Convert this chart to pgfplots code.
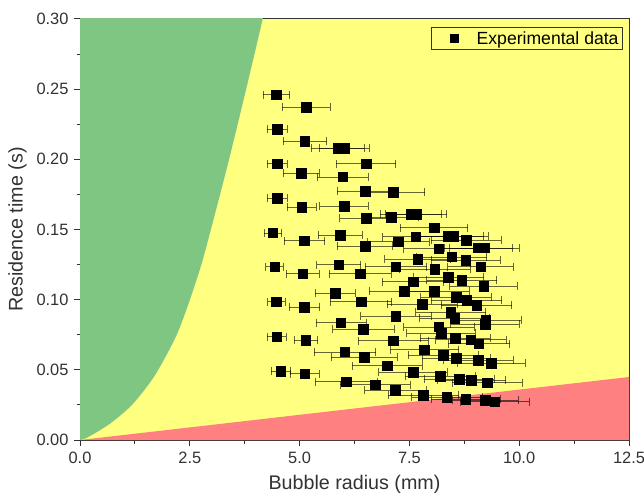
\documentclass[border=0pt]{standalone}
\usepackage{fontspec}
\setmainfont{Liberation Sans}
\usepackage{pgfplots}
\usepackage{pgfplotstable}
\pgfplotsset{compat=1.18}
\definecolor{bgyellow}{RGB}{255,255,128}
\definecolor{zgreen}{RGB}{128,198,131}
\definecolor{zred}{RGB}{255,128,128}
\definecolor{axgray}{RGB}{50,50,50}
\pgfplotstableread{
x y ex
4.47 0.246 0.30
5.15 0.237 0.55
4.49 0.2215 0.23
5.12 0.213 0.50
5.87 0.208 0.60
6.02 0.208 0.57
4.49 0.197 0.23
6.51 0.197 0.68
5.04 0.190 0.41
5.98 0.1875 0.58
6.50 0.1773 0.65
7.13 0.1766 0.72
4.49 0.1723 0.23
5.05 0.166 0.33
6.01 0.1666 0.55
7.53 0.161 0.70
7.65 0.161 0.70
6.51 0.158 0.60
7.08 0.1588 0.62
8.06 0.1514 0.77
4.39 0.1476 0.20
5.93 0.146 0.50
7.64 0.145 0.75
8.39 0.1452 0.80
8.50 0.1452 0.80
5.11 0.1421 0.46
7.25 0.1412 0.70
8.79 0.1424 0.80
6.49 0.138 0.63
8.17 0.1364 0.80
9.07 0.1369 0.78
9.20 0.1369 0.80
7.69 0.1288 0.75
8.46 0.1305 0.80
8.78 0.128 0.78
4.43 0.1234 0.20
5.89 0.125 0.50
7.19 0.1236 0.70
9.12 0.1234 0.75
5.07 0.1186 0.37
6.38 0.1186 0.70
8.08 0.1217 0.80
8.39 0.1162 0.80
8.69 0.1139 0.80
7.58 0.1129 0.70
9.19 0.1096 0.77
7.38 0.106 0.80
8.06 0.1062 0.80
5.81 0.1044 0.45
8.56 0.1017 0.80
8.80 0.0996 0.80
4.47 0.0986 0.20
6.40 0.0986 0.70
7.79 0.0967 0.80
9.03 0.096 0.80
5.11 0.0948 0.35
8.44 0.091 0.80
7.19 0.0882 0.80
8.53 0.0868 0.80
9.24 0.0856 0.80
9.22 0.0825 0.78
5.94 0.0837 0.57
8.17 0.0806 0.80
6.45 0.0789 0.70
8.22 0.0763 0.78
4.48 0.0737 0.22
8.54 0.0727 0.80
5.14 0.0713 0.27
7.13 0.0708 0.80
8.90 0.0715 0.80
9.08 0.0687 0.70
7.84 0.0644 0.78
6.03 0.0628 0.70
8.27 0.0606 0.80
6.47 0.0592 0.75
8.57 0.0582 0.78
9.07 0.057 0.80
9.36 0.0547 0.77
6.99 0.053 0.80
4.57 0.0492 0.22
7.58 0.0485 0.78
5.12 0.0473 0.33
8.20 0.0456 0.80
8.63 0.0433 0.80
8.91 0.0428 0.78
6.06 0.0416 0.70
9.27 0.0409 0.80
6.72 0.0395 0.80
7.18 0.0354 0.70
7.82 0.0321 0.80
8.35 0.0304 0.80
8.78 0.0292 0.78
9.22 0.0285 0.75
9.44 0.0273 0.78
}\expdata
\begin{document}
\begin{tikzpicture}
\begin{axis}[
  scale only axis,
  width=549pt, height=421pt,
  xmin=0, xmax=12.5, ymin=0, ymax=0.30,
  axis background/.style={fill=bgyellow},
  axis line style={axgray, line width=1pt},
  xtick={0,2.5,5,7.5,10,12.5},
  ytick={0,0.05,0.10,0.15,0.20,0.25,0.30},
  minor x tick num=1, minor y tick num=1,
  tick align=outside,
  xtick pos=bottom, ytick pos=left,
  major tick length=6pt, minor tick length=3.5pt,
  every tick/.style={axgray, line width=1pt},
  scaled y ticks=false,
  xticklabel style={yshift=-3pt, /pgf/number format/.cd, fixed, fixed zerofill, precision=1},
  yticklabel style={xshift=-2pt, /pgf/number format/.cd, fixed, fixed zerofill, precision=2},
  /pgf/number format/assume math mode=true,
  ticklabel style={font=\fontsize{16.4}{18}\selectfont, text=axgray},
  xlabel={Bubble radius (mm)}, ylabel={Residence time (s)},
  label style={font=\fontsize{19.7}{22}\selectfont, text=axgray},
  xlabel style={yshift=-4pt},
  ylabel style={yshift=3pt},
  legend style={at={(0.989,0.981)}, anchor=north east, fill=none, draw=axgray,
    line width=0.8pt, font=\fontsize{17.6}{20}\selectfont, inner sep=2pt,
    legend cell align=left},
  legend image code/.code={\path[draw=none, fill=none] (0pt,-1pt) rectangle (41pt,1pt); \fill[black] (17pt,-4pt) rectangle (25pt,4pt);},
]
\addplot[fill=zgreen, draw=none, smooth, forget plot] coordinates {
 (-0.6,0) (0,0) (0.27,0.0036) (0.64,0.0107) (0.90,0.0170) (1.18,0.0249) (1.50,0.0370)
 (1.78,0.0499) (2.20,0.0748) (2.50,0.0998) (2.76,0.1247)
 (2.98,0.150) (3.37,0.197) (3.76,0.247) (4.16,0.30) (4.60,0.36) (-0.6,0.36)} -- cycle;
\addplot[fill=zred, draw=none, forget plot] coordinates {
 (0,0) (12.5,0.0449) (12.5,0)} -- cycle;
\addplot[only marks, mark=square*, mark size=4.8pt, black,
  error bars/.cd, x dir=both, x explicit,
  error bar style={black, opacity=0.6, line width=0.7pt},
  error mark options={rotate=90, mark size=4pt, black, opacity=0.6, line width=0.7pt}]
  table[x=x, y=y, x error=ex] {\expdata};
\addlegendentry{Experimental data}
\end{axis}
\pgfresetboundingbox
\path (current axis.south west) ++(-80pt,-60pt) coordinate (bbA);
\path (current axis.north east) ++(15pt,19pt) coordinate (bbB);
\path (bbA) rectangle (bbB);
\end{tikzpicture}
\end{document}
